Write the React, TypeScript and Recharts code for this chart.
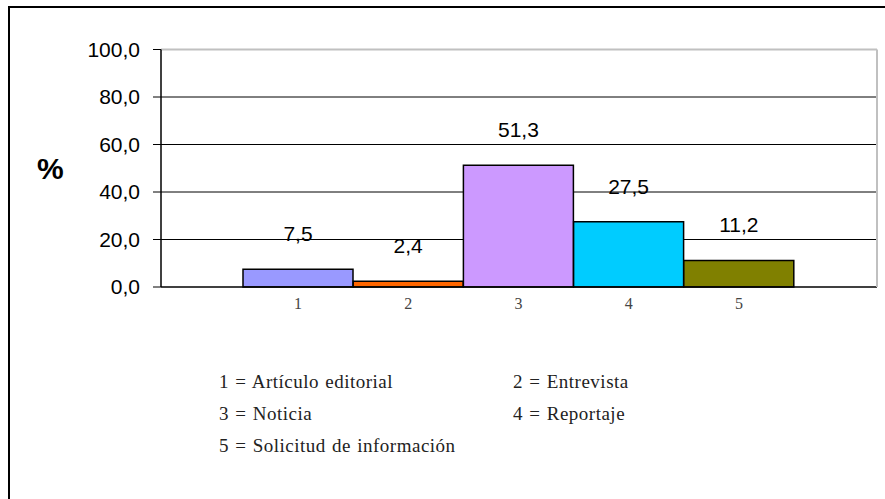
import React from 'react';
import { BarChart, Bar, XAxis, YAxis, CartesianGrid, LabelList, Cell } from 'recharts';

const CATEGORIES = ['1', '2', '3', '4', '5'];
const VALUES = [7.5, 2.4, 51.3, 27.5, 11.2];
const NAMES = ['Artículo editorial', 'Entrevista', 'Noticia', 'Reportaje', 'Solicitud de información'];
const Y_TICKS = [0, 20, 40, 60, 80, 100];
const INNER_GRID = [20, 40, 60, 80];
const TOP_GRID = [100];

const COLORS = ['#9999FF', '#FF6600', '#CC99FF', '#00CCFF', '#808000'];

const data = CATEGORIES.map((cat, i) => ({ cat, value: VALUES[i] }));

const fmt = (v: number) => v.toFixed(1).replace('.', ',');

const sans = '"Liberation Sans", Arial, sans-serif';
const serif = '"Liberation Serif", "DejaVu Serif", serif';

const LegendKey: React.FC = () => {
    // two columns: odd numbers left, even numbers right
    const rows: number[][] = [];
    for (let i = 0; i < CATEGORIES.length; i += 2) {
        rows.push(i + 1 < CATEGORIES.length ? [i, i + 1] : [i]);
    }
    return (
        <div
            style={{
                position: 'absolute',
                left: 219,
                top: 368,
                fontFamily: serif,
                fontSize: 19,
                letterSpacing: 0.5,
                wordSpacing: 1,
                color: '#222',
            }}
        >
            {rows.map((row, r) => (
                <div key={r} style={{ display: 'flex', height: 32, lineHeight: '28px' }}>
                    {row.map((idx) => (
                        <div key={idx} style={{ width: 294, whiteSpace: 'nowrap' }}>
                            {CATEGORIES[idx]} = {NAMES[idx]}
                        </div>
                    ))}
                </div>
            ))}
        </div>
    );
};

export default function App() {
    return (
        <div style={{ position: 'absolute', left: 0, top: 0, width: 885, height: 499, overflow: 'hidden', background: '#fff' }}>
            <div style={{ position: 'absolute', left: 8, top: 6, width: 1000, height: 600, border: '2px solid #000', boxSizing: 'border-box' }} />
            <div style={{ position: 'absolute', left: 0, top: 0 }}>
                <BarChart
                    width={885}
                    height={499}
                    data={data}
                    margin={{ top: 49.5, right: 0, left: 0, bottom: 182 }}
                    barCategoryGap={0}
                >
                    <CartesianGrid vertical={false} horizontalValues={INNER_GRID} stroke="#000" strokeWidth={1} />
                    <CartesianGrid vertical={false} horizontalValues={TOP_GRID} stroke="#c0c0c0" strokeWidth={2} />
                    <XAxis
                        dataKey="cat"
                        padding={{ left: 82, right: 83 }}
                        tickLine={false}
                        tickSize={0}
                        tickMargin={11}
                        height={30}
                        axisLine={{ stroke: '#000', strokeWidth: 1.5 }}
                        tick={{ fontFamily: serif, fontSize: 16, fill: '#444' }}
                    />
                    <YAxis
                        yAxisId={0}
                        domain={[0, 100]}
                        ticks={Y_TICKS}
                        width={161}
                        tickSize={8}
                        tickMargin={13}
                        tickFormatter={fmt}
                        axisLine={{ stroke: '#000', strokeWidth: 1.5 }}
                        tickLine={{ stroke: '#000' }}
                        tick={{ fontFamily: sans, fontSize: 21, fill: '#000' }}
                        label={{ value: '%', position: 'insideLeft', offset: 37, fontFamily: sans, fontSize: 30, fontWeight: 'bold', fill: '#000' }}
                    />
                    <YAxis
                        yAxisId="edge"
                        orientation="right"
                        domain={[0, 100]}
                        width={8}
                        tick={false}
                        tickLine={false}
                        axisLine={{ stroke: '#c0c0c0', strokeWidth: 2 }}
                    />
                    <Bar dataKey="value" stroke="#000" strokeWidth={1.5} isAnimationActive={false}>
                        {data.map((d, i) => (
                            <Cell key={d.cat} fill={COLORS[i]} />
                        ))}
                        <LabelList
                            dataKey="value"
                            position="top"
                            offset={28}
                            formatter={(v: any) => fmt(Number(v))}
                            style={{ fontFamily: sans, fontSize: 21, fill: '#000' }}
                        />
                    </Bar>
                </BarChart>
            </div>
            <LegendKey />
        </div>
    );
}
